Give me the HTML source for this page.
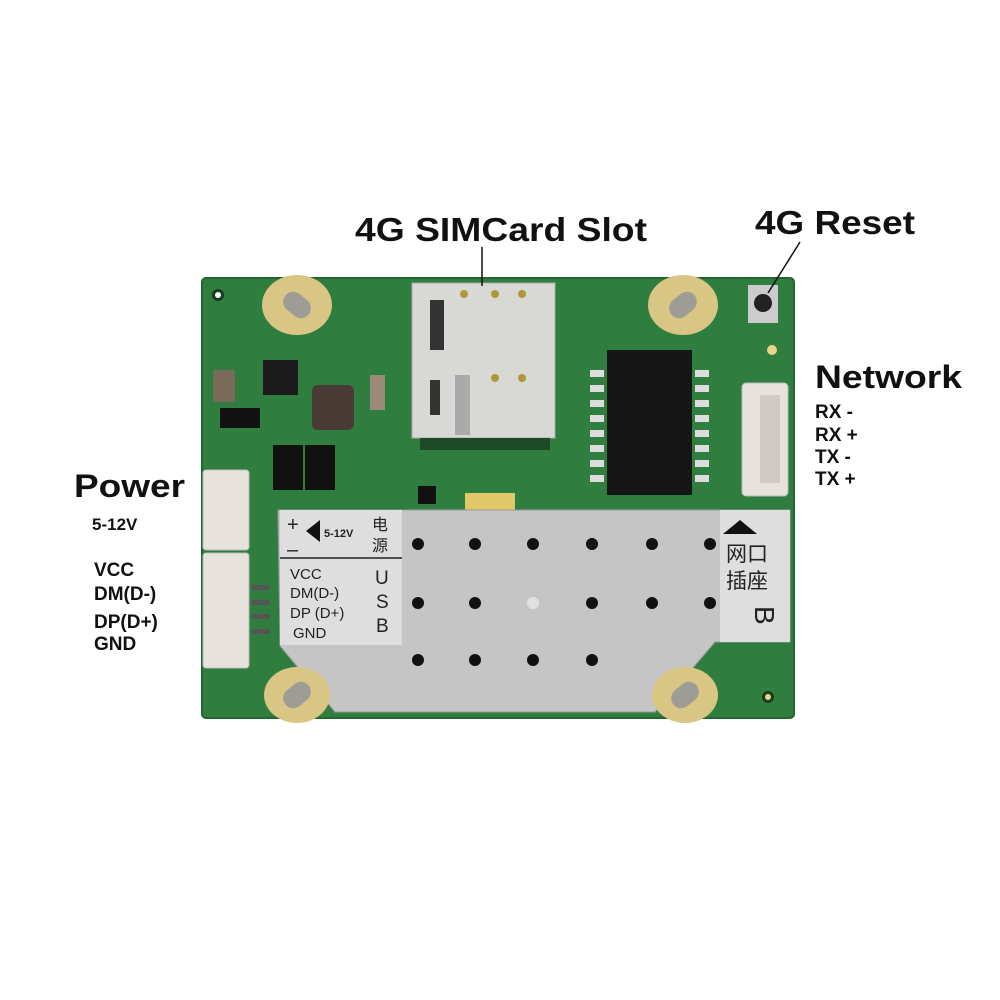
<!DOCTYPE html>
<html><head><meta charset="utf-8"><style>
html,body{margin:0;padding:0;background:#fff;}
svg{display:block}
</style></head><body>
<svg width="1000" height="1000" viewBox="0 0 1000 1000" xmlns="http://www.w3.org/2000/svg" font-family="Liberation Sans, Noto Sans CJK SC, sans-serif">
<rect width="1000" height="1000" fill="#fff"/>
<rect x="202" y="278" width="592" height="440" rx="4" fill="#2f7d3f"/>
<rect x="202" y="278" width="592" height="440" rx="4" fill="none" stroke="#25652f" stroke-width="2"/>
<circle cx="218" cy="295" r="6" fill="#1a3a22"/><circle cx="218" cy="295" r="3" fill="#fff"/>
<circle cx="768" cy="697" r="6" fill="#1a3a22"/><circle cx="768" cy="697" r="3" fill="#e8d48a"/>
<circle cx="772" cy="350" r="5" fill="#e8d48a"/>
<rect x="412" y="283" width="143" height="155" fill="#d8d8d4" stroke="#aaa"/>
<rect x="430" y="300" width="14" height="50" fill="#333"/>
<rect x="430" y="380" width="10" height="35" fill="#333"/>
<rect x="455" y="375" width="15" height="60" fill="#aaa"/>
<g fill="#b0973a"><circle cx="464" cy="294" r="4"/><circle cx="495" cy="294" r="4"/><circle cx="522" cy="294" r="4"/><circle cx="495" cy="378" r="4"/><circle cx="522" cy="378" r="4"/></g>
<rect x="420" y="438" width="130" height="12" fill="#1e4a28"/>
<rect x="465" y="493" width="50" height="17" fill="#e0c86a"/>
<rect x="607" y="350" width="85" height="145" fill="#161616"/>
<g fill="#ddd">
<rect x="590" y="370" width="14" height="7"/><rect x="590" y="385" width="14" height="7"/><rect x="590" y="400" width="14" height="7"/><rect x="590" y="415" width="14" height="7"/><rect x="590" y="430" width="14" height="7"/><rect x="590" y="445" width="14" height="7"/><rect x="590" y="460" width="14" height="7"/><rect x="590" y="475" width="14" height="7"/>
<rect x="695" y="370" width="14" height="7"/><rect x="695" y="385" width="14" height="7"/><rect x="695" y="400" width="14" height="7"/><rect x="695" y="415" width="14" height="7"/><rect x="695" y="430" width="14" height="7"/><rect x="695" y="445" width="14" height="7"/><rect x="695" y="460" width="14" height="7"/><rect x="695" y="475" width="14" height="7"/>
</g>
<rect x="263" y="360" width="35" height="35" fill="#1b1b1b"/>
<rect x="312" y="385" width="42" height="45" rx="6" fill="#4a3a35"/>
<rect x="273" y="445" width="30" height="45" fill="#111"/>
<rect x="305" y="445" width="30" height="45" fill="#111"/>
<rect x="220" y="408" width="40" height="20" fill="#111"/>
<rect x="213" y="370" width="22" height="32" fill="#7a6a5a"/>
<rect x="370" y="375" width="15" height="35" fill="#9a8b78"/>
<rect x="418" y="486" width="18" height="18" fill="#111"/>
<rect x="748" y="285" width="30" height="38" fill="#ccc"/><circle cx="763" cy="303" r="9" fill="#222"/>
<rect x="742" y="383" width="46" height="113" rx="4" fill="#e7e3dc" stroke="#bbb"/>
<rect x="760" y="395" width="20" height="88" fill="#d0cbc2"/>
<rect x="203" y="470" width="46" height="80" rx="3" fill="#e7e3dc" stroke="#bbb"/>
<rect x="203" y="553" width="46" height="115" rx="3" fill="#e7e3dc" stroke="#bbb"/>
<g fill="#555"><rect x="252" y="585" width="18" height="5"/><rect x="252" y="600" width="18" height="5"/><rect x="252" y="614" width="18" height="5"/><rect x="252" y="629" width="18" height="5"/></g>
<polygon points="278,510 790,510 790,642 715,642 655,712 335,712 280,646" fill="#c5c5c5" stroke="#9a9a9a"/>
<rect x="280" y="510" width="122" height="135" fill="#dedede"/>
<line x1="280" y1="558" x2="402" y2="558" stroke="#222" stroke-width="1.5"/>
<rect x="720" y="510" width="70" height="132" fill="#dedede"/>
<g fill="#111">
<circle cx="418" cy="544" r="6"/><circle cx="475" cy="544" r="6"/><circle cx="533" cy="544" r="6"/><circle cx="592" cy="544" r="6"/><circle cx="652" cy="544" r="6"/><circle cx="710" cy="544" r="6"/>
<circle cx="418" cy="603" r="6"/><circle cx="475" cy="603" r="6"/><circle cx="592" cy="603" r="6"/><circle cx="652" cy="603" r="6"/><circle cx="710" cy="603" r="6"/>
<circle cx="418" cy="660" r="6"/><circle cx="475" cy="660" r="6"/><circle cx="533" cy="660" r="6"/><circle cx="592" cy="660" r="6"/>
</g>
<circle cx="533" cy="603" r="6" fill="#e0e0e0"/>
<g fill="#d9c584">
<ellipse cx="297" cy="305" rx="35" ry="30"/><ellipse cx="683" cy="305" rx="35" ry="30"/>
<ellipse cx="297" cy="695" rx="33" ry="28"/><ellipse cx="685" cy="695" rx="33" ry="28"/>
</g>
<g fill="#9e9d95">
<rect x="282" y="295" width="30" height="20" rx="10" transform="rotate(40 297 305)"/>
<rect x="668" y="295" width="30" height="20" rx="10" transform="rotate(-40 683 305)"/>
<rect x="282" y="685" width="30" height="20" rx="10" transform="rotate(-40 297 695)"/>
<rect x="670" y="685" width="30" height="20" rx="10" transform="rotate(-40 685 695)"/>
</g>
<g fill="#222" font-size="15">
<text x="287" y="531" font-size="20">+</text><text x="287" y="556" font-size="20">–</text>
<polygon points="306,531 320,520 320,542" fill="#111"/>
<text x="324" y="537" font-size="11" font-weight="bold">5-12V</text>
<text x="372" y="530" font-size="16">电</text><text x="372" y="551" font-size="16">源</text>
<text x="290" y="579">VCC</text><text x="290" y="598">DM(D-)</text><text x="290" y="618">DP (D+)</text><text x="293" y="638">GND</text>
<text x="375" y="584" font-size="19">U</text><text x="376" y="608" font-size="19">S</text><text x="376" y="632" font-size="19">B</text>
<polygon points="740,520 757,534 723,534" fill="#111"/>
<text x="726" y="561" font-size="21">网口</text><text x="726" y="588" font-size="21">插座</text>
<text x="740" y="615" font-size="28" transform="rotate(90 752 618)">B</text>
</g>
<line x1="482" y1="247" x2="482" y2="286" stroke="#111" stroke-width="1.5"/>
<line x1="800" y1="242" x2="768" y2="293" stroke="#111" stroke-width="1.5"/>
<g font-weight="bold" fill="#111">
<text x="355" y="241" font-size="33" textLength="292" lengthAdjust="spacingAndGlyphs">4G SIMCard Slot</text>
<text x="755" y="234" font-size="33" textLength="160" lengthAdjust="spacingAndGlyphs">4G Reset</text>
<text x="815" y="388" font-size="32" textLength="147" lengthAdjust="spacingAndGlyphs">Network</text>
<text x="815" y="418" font-size="19">RX -</text>
<text x="815" y="441" font-size="19">RX +</text>
<text x="815" y="463" font-size="19">TX -</text>
<text x="815" y="485" font-size="19">TX +</text>
<text x="74" y="497" font-size="32" textLength="111" lengthAdjust="spacingAndGlyphs">Power</text>
<text x="92" y="530" font-size="17">5-12V</text>
<text x="94" y="576" font-size="19">VCC</text>
<text x="94" y="600" font-size="19">DM(D-)</text>
<text x="94" y="628" font-size="19">DP(D+)</text>
<text x="94" y="650" font-size="19">GND</text>
</g>
</svg>
</body></html>
